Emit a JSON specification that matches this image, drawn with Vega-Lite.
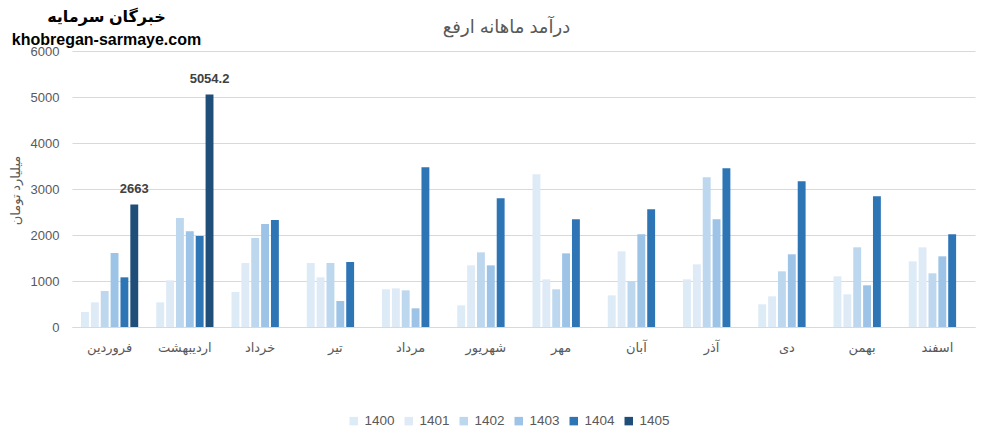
{
  "$schema": "https://vega.github.io/schema/vega-lite/v6.json",
  "width": 903,
  "height": 276,
  "autosize": {"type": "none"},
  "padding": {"left": 72, "top": 51, "right": 18, "bottom": 114},
  "config": {
    "view": {"stroke": null},
    "font": "Liberation Sans, DejaVu Sans"
  },
  "title": {
    "text": "درآمد ماهانه ارفع",
    "anchor": "middle",
    "frame": "group",
    "offset": -29,
    "dx": -17,
    "fontSize": 18,
    "fontWeight": "normal",
    "color": "#595959",
    "font": "Liberation Sans, DejaVu Sans"
  },
  "data": {
    "values": [
      {"month": "فروردین", "year": "1400", "value": 326},
      {"month": "فروردین", "year": "1401", "value": 536},
      {"month": "فروردین", "year": "1402", "value": 783},
      {"month": "فروردین", "year": "1403", "value": 1609},
      {"month": "فروردین", "year": "1404", "value": 1080},
      {"month": "فروردین", "year": "1405", "value": 2663},
      {"month": "اردیبهشت", "year": "1400", "value": 536},
      {"month": "اردیبهشت", "year": "1401", "value": 1014},
      {"month": "اردیبهشت", "year": "1402", "value": 2370},
      {"month": "اردیبهشت", "year": "1403", "value": 2080},
      {"month": "اردیبهشت", "year": "1404", "value": 1978},
      {"month": "اردیبهشت", "year": "1405", "value": 5054.2},
      {"month": "خرداد", "year": "1400", "value": 761},
      {"month": "خرداد", "year": "1401", "value": 1391},
      {"month": "خرداد", "year": "1402", "value": 1935},
      {"month": "خرداد", "year": "1403", "value": 2239},
      {"month": "خرداد", "year": "1404", "value": 2326},
      {"month": "تیر", "year": "1400", "value": 1391},
      {"month": "تیر", "year": "1401", "value": 1080},
      {"month": "تیر", "year": "1402", "value": 1391},
      {"month": "تیر", "year": "1403", "value": 565},
      {"month": "تیر", "year": "1404", "value": 1413},
      {"month": "مرداد", "year": "1400", "value": 819},
      {"month": "مرداد", "year": "1401", "value": 840},
      {"month": "مرداد", "year": "1402", "value": 797},
      {"month": "مرداد", "year": "1403", "value": 406},
      {"month": "مرداد", "year": "1404", "value": 3471},
      {"month": "شهریور", "year": "1400", "value": 471},
      {"month": "شهریور", "year": "1401", "value": 1340},
      {"month": "شهریور", "year": "1402", "value": 1623},
      {"month": "شهریور", "year": "1403", "value": 1340},
      {"month": "شهریور", "year": "1404", "value": 2797},
      {"month": "مهر", "year": "1400", "value": 3319},
      {"month": "مهر", "year": "1401", "value": 1036},
      {"month": "مهر", "year": "1402", "value": 819},
      {"month": "مهر", "year": "1403", "value": 1601},
      {"month": "مهر", "year": "1404", "value": 2340},
      {"month": "آبان", "year": "1400", "value": 688},
      {"month": "آبان", "year": "1401", "value": 1645},
      {"month": "آبان", "year": "1402", "value": 993},
      {"month": "آبان", "year": "1403", "value": 2014},
      {"month": "آبان", "year": "1404", "value": 2558},
      {"month": "آذر", "year": "1400", "value": 1036},
      {"month": "آذر", "year": "1401", "value": 1362},
      {"month": "آذر", "year": "1402", "value": 3253},
      {"month": "آذر", "year": "1403", "value": 2340},
      {"month": "آذر", "year": "1404", "value": 3449},
      {"month": "دی", "year": "1400", "value": 493},
      {"month": "دی", "year": "1401", "value": 667},
      {"month": "دی", "year": "1402", "value": 1210},
      {"month": "دی", "year": "1403", "value": 1580},
      {"month": "دی", "year": "1404", "value": 3166},
      {"month": "بهمن", "year": "1400", "value": 1101},
      {"month": "بهمن", "year": "1401", "value": 710},
      {"month": "بهمن", "year": "1402", "value": 1732},
      {"month": "بهمن", "year": "1403", "value": 906},
      {"month": "بهمن", "year": "1404", "value": 2840},
      {"month": "اسفند", "year": "1400", "value": 1427},
      {"month": "اسفند", "year": "1401", "value": 1732},
      {"month": "اسفند", "year": "1402", "value": 1167},
      {"month": "اسفند", "year": "1403", "value": 1536},
      {"month": "اسفند", "year": "1404", "value": 2014}
    ]
  },
  "layer": [
    {
      "mark": {"type": "bar"},
      "encoding": {
        "x": {
          "field": "month",
          "type": "nominal",
          "sort": ["فروردین", "اردیبهشت", "خرداد", "تیر", "مرداد", "شهریور", "مهر", "آبان", "آذر", "دی", "بهمن", "اسفند"],
          "scale": {"paddingInner": 0.24, "paddingOuter": 0.12},
          "axis": {
            "title": null,
            "labelAngle": 0,
            "labelFontSize": 13,
            "labelColor": "#595959",
            "labelPadding": 14,
            "ticks": false,
            "domainColor": "#D9D9D9",
            "grid": false
          }
        },
        "xOffset": {
          "field": "year",
          "type": "nominal",
          "scale": {"domain": ["1400", "1401", "1402", "1403", "1404", "1405"], "paddingInner": 0.2, "paddingOuter": 0}
        },
        "y": {
          "field": "value",
          "type": "quantitative",
          "scale": {"domain": [0, 6000], "nice": false},
          "axis": {
            "values": [0, 1000, 2000, 3000, 4000, 5000, 6000],
            "format": "d",
            "title": "میلیارد تومان",
            "titleFontSize": 13,
            "titleFontWeight": "normal",
            "titleColor": "#595959",
            "titleX": -57,
            "titleY": 139,
            "titleAngle": -90,
            "titleAlign": "center",
            "titleBaseline": "middle",
            "labelFontSize": 13,
            "labelColor": "#595959",
            "labelPadding": 13,
            "ticks": false,
            "domain": false,
            "gridColor": "#D9D9D9"
          }
        },
        "color": {
          "field": "year",
          "type": "nominal",
          "scale": {
            "domain": ["1400", "1401", "1402", "1403", "1404", "1405"],
            "range": ["#DDEBF7", "#DEEAF6", "#BDD7EE", "#9DC3E6", "#2E75B6", "#1F4E79"]
          },
          "legend": {
            "title": null,
            "orient": "none",
            "direction": "horizontal",
            "legendX": 275,
            "legendY": 363,
            "symbolType": "square",
            "symbolSize": 72,
            "symbolStrokeWidth": 0,
            "labelFontSize": 13.5,
            "labelColor": "#595959",
            "labelOffset": 4,
            "columnPadding": 7
          }
        }
      }
    },
    {
      "transform": [{"filter": "datum.year == '1405'"}],
      "mark": {"type": "text", "dy": -16, "fontSize": 13, "fontWeight": "bold", "color": "#404040"},
      "encoding": {
        "x": {
          "field": "month",
          "type": "nominal",
          "sort": ["فروردین", "اردیبهشت", "خرداد", "تیر", "مرداد", "شهریور", "مهر", "آبان", "آذر", "دی", "بهمن", "اسفند"],
          "axis": {
            "orient": "top",
            "labels": false,
            "ticks": false,
            "domain": false,
            "grid": false,
            "title": ["خبرگان سرمایه", "khobregan-sarmaye.com"],
            "titleFontSize": 16,
            "titleFontWeight": "bold",
            "titleColor": "#000000",
            "titleX": 34,
            "titleY": -43,
            "titleAlign": "center",
            "titleBaseline": "top",
            "titleLineHeight": 23,
            "titleAngle": 0
          }
        },
        "xOffset": {"field": "year", "type": "nominal"},
        "y": {"field": "value", "type": "quantitative"},
        "text": {"field": "value", "type": "quantitative"}
      }
    }
  ],
  "resolve": {"axis": {"x": "independent"}}
}
